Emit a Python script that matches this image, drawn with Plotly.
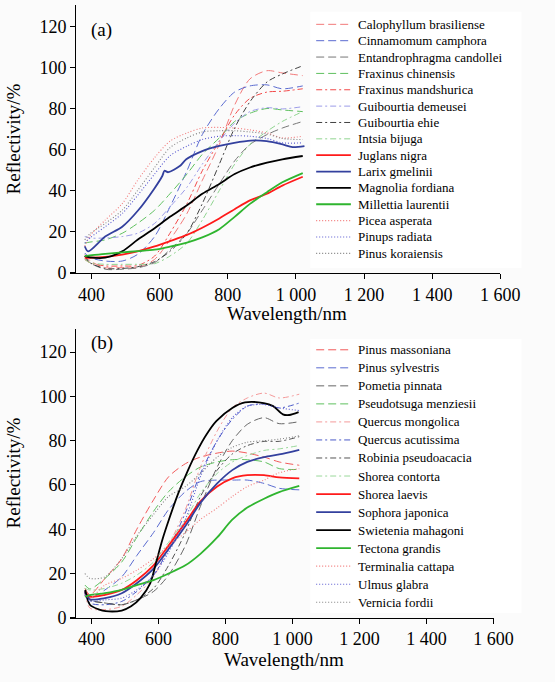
import plotly.graph_objects as go

# ---------------- data ----------------
WL = [380, 395, 440, 490, 535, 585, 630, 680, 725, 775, 820, 865, 915, 960, 1020]

# panel (a)
calophyllum_brasiliense = [9, 6, 2.6, 2.6, 2.6, 6.6, 16.1, 28.9, 45, 62.5, 81.7, 94.4, 98.4, 97.3, 96]
cinnamomum_camphora = [9.7, 7.5, 5.8, 5.8, 9, 17.7, 32.1, 49.7, 67.3, 80, 88, 91, 91.5, 89.6, 91]
entandrophragma_candollei = [8.2, 5, 1.8, 1.8, 2.5, 5, 11.3, 19.3, 30.5, 43.3, 54.5, 62.5, 67.3, 70.5, 73.7]
fraxinus_chinensis = [14.5, 15, 16.1, 19.3, 24.1, 30.5, 38.5, 48.1, 57.7, 65.7, 73.7, 77.7, 80, 79.3, 78.5]
fraxinus_mandshurica = [6.6, 5, 3.4, 3.4, 3.6, 8.2, 19.3, 33.7, 49.7, 64.1, 76.9, 84.9, 88, 88.4, 89.6]
guibourtia_demeusei = [17.7, 17, 17, 17.7, 19.3, 24.1, 32.1, 41.7, 52.9, 64.1, 72.9, 78.5, 80.4, 79.8, 80.9]
guibourtia_ehie = [8.2, 5, 2.2, 2.2, 3, 5.5, 10.5, 19.3, 33.7, 52.9, 70.5, 83.3, 92.9, 96.8, 100.8]
intsia_bijuga = [6.6, 5, 4.2, 4.2, 4.2, 4.5, 8.2, 14.5, 25.7, 40.1, 52.9, 62.5, 68.9, 73.7, 78.5]
juglans_nigra = [7.4, 7.4, 7.8, 8.9, 10.5, 12.9, 15.5, 18.5, 22, 26.5, 31, 35.3, 38.5, 42.5, 46.8]
larix_wl = [380, 390, 440, 490, 537, 584, 608, 614, 625, 659, 678, 725, 772, 819, 867, 914, 961, 990, 1025]
larix_gmelinii = [13, 10.5, 17.7, 22.5, 30.5, 41, 47.3, 49.7, 49, 52, 55.3, 59.3, 61.7, 63.3, 64.4, 64.1, 62.5, 61.2, 61.7]
magnolia_fordiana = [8.2, 7.6, 7.4, 10.5, 16.1, 21.7, 27.3, 32.9, 38.5, 43.3, 48.1, 51.3, 53.7, 55.3, 56.9]
millettia_laurentii = [8.2, 8.5, 9.3, 10, 10.6, 11.3, 12.8, 14.8, 17.3, 21.3, 27.3, 33.6, 39.3, 44.1, 48.6]
picea_asperata = [13, 18, 25.7, 33.7, 45, 56.1, 64.1, 68.1, 70.5, 70.8, 70.5, 69.6, 68.1, 65.7, 66.5]
pinups_radiata = [14.5, 17, 22.5, 28.9, 37.7, 48.1, 57, 61.7, 64.9, 66.5, 66.8, 66.5, 65.4, 63.3, 63.3]
pinus_koraiensis = [16.1, 19, 24.1, 30.5, 40.1, 51.3, 60.9, 65.7, 68.6, 69.2, 69.2, 68.6, 67.6, 65.4, 64.9]

# panel (b)
pinus_massoniana = [13.3, 10.4, 17.8, 26.7, 40, 53.3, 63.7, 69.6, 72.6, 74.4, 75.3, 74.4, 72.6, 70.4, 68.9]
pinus_sylvestris = [11.9, 8.9, 12.6, 18.5, 28.1, 38.5, 48.9, 57, 61.5, 62.2, 62.2, 62.2, 60.7, 58.5, 57.8]
pometia_pinnata = [10.4, 8, 6.7, 5.9, 8.1, 11.9, 19.3, 32.6, 50.4, 68.1, 80, 87.4, 90.4, 87.7, 88.6]
pseudotsuga_menziesii = [14.8, 13, 17.8, 25.2, 36.3, 48.1, 57, 63.7, 68.1, 70.4, 71.4, 71.4, 70.4, 67.4, 67]
quercus_mongolica = [11.9, 4.4, 3.7, 5.2, 10.4, 18.5, 32.6, 48.9, 68.1, 84.4, 94.8, 99.3, 101.5, 99.3, 101]
quercus_acutissima = [11.1, 6.7, 5.9, 7.4, 11.9, 19.3, 31.1, 47.4, 65.2, 80, 89.6, 95.6, 96.6, 94.8, 97]
robinia_pseudoacacia = [11.1, 8, 6.7, 5.9, 8.1, 13.3, 23.7, 38.5, 54.8, 66.7, 74, 77.8, 79.7, 79.7, 81.8]
shorea_contorta = [13.3, 12.5, 13.3, 15.6, 19.3, 25.2, 34.1, 44.4, 56.3, 65.2, 70.4, 73.3, 75.6, 76.3, 77.8]
shorea_laevis = [11.9, 9.6, 10.4, 12.6, 17, 23.7, 32.6, 43, 52.6, 59.3, 63, 64.4, 64.4, 63.4, 63]
sophora_japonica = [11.9, 8.4, 8.9, 11.1, 15.6, 22.2, 31.1, 41.5, 51.9, 60.7, 66.7, 70.4, 72.6, 73.8, 75.9]
swietenia_wl = [381, 395, 423, 442, 490, 518, 546, 575, 593, 612, 631, 659, 688, 716, 744, 773, 820, 858, 914, 942, 971, 990, 1018]
swietenia_mahagoni = [12.6, 5.9, 3.7, 3, 3.3, 5.2, 8.9, 15.6, 25.2, 35.6, 44.4, 56.3, 66.7, 75.6, 83, 88.9, 94.8, 97.3, 97, 95.6, 91.9, 91.6, 92.9]
tectona_grandis = [9.6, 10.2, 11.1, 12.6, 14.8, 17, 20, 23.7, 28.9, 36.3, 44.3, 49.8, 53.8, 56.8, 59.6]
terminalia_cattapa = [10.4, 8.9, 14.8, 17.8, 21.5, 26.7, 32.6, 38.5, 44.4, 49.6, 54.8, 59.3, 62.2, 65.5, 67.4]
ulmus_glabra = [10.4, 7.5, 8.1, 8.9, 12.6, 19.3, 29.6, 44.4, 63.7, 80, 90.4, 95.6, 96.3, 94.8, 93.6]
vernicia_fordii = [20, 17.8, 18.5, 26.7, 37, 46.7, 54.8, 59.3, 65.2, 72.6, 77, 79.3, 80, 80.7, 82.2]

X_TICKS = [400, 600, 800, 1000, 1200, 1400, 1600]
X_TICKTEXT = ["400", "600", "800", "1 000", "1 200", "1 400", "1 600"]
Y_TICKS = [0, 20, 40, 60, 80, 100, 120]

series_a = [
    ("Calophyllum brasiliense", WL, calophyllum_brasiliense),
    ("Cinnamomum camphora", WL, cinnamomum_camphora),
    ("Entandrophragma candollei", WL, entandrophragma_candollei),
    ("Fraxinus chinensis", WL, fraxinus_chinensis),
    ("Fraxinus mandshurica", WL, fraxinus_mandshurica),
    ("Guibourtia demeusei", WL, guibourtia_demeusei),
    ("Guibourtia ehie", WL, guibourtia_ehie),
    ("Intsia bijuga", WL, intsia_bijuga),
    ("Juglans nigra", WL, juglans_nigra),
    ("Larix gmelinii", larix_wl, larix_gmelinii),
    ("Magnolia fordiana", WL, magnolia_fordiana),
    ("Millettia laurentii", WL, millettia_laurentii),
    ("Picea asperata", WL, picea_asperata),
    ("Pinups radiata", WL, pinups_radiata),
    ("Pinus koraiensis", WL, pinus_koraiensis),
]
series_b = [
    ("Pinus massoniana", WL, pinus_massoniana),
    ("Pinus sylvestris", WL, pinus_sylvestris),
    ("Pometia pinnata", WL, pometia_pinnata),
    ("Pseudotsuga menziesii", WL, pseudotsuga_menziesii),
    ("Quercus mongolica", WL, quercus_mongolica),
    ("Quercus acutissima", WL, quercus_acutissima),
    ("Robinia pseudoacacia", WL, robinia_pseudoacacia),
    ("Shorea contorta", WL, shorea_contorta),
    ("Shorea laevis", WL, shorea_laevis),
    ("Sophora japonica", WL, sophora_japonica),
    ("Swietenia mahagoni", swietenia_wl, swietenia_mahagoni),
    ("Tectona grandis", WL, tectona_grandis),
    ("Terminalia cattapa", WL, terminalia_cattapa),
    ("Ulmus glabra", WL, ulmus_glabra),
    ("Vernicia fordii", WL, vernicia_fordii),
]

# ---------------- styles ----------------
DASH = "8px,4px"
DASHDOT = "6px,3px,2px,3px"
DOT = "1px,2px"
styles_a = [
    ("#f27a7a", DASH, 1.0), ("#5a6bd0", DASH, 1.0), ("#777777", DASH, 1.0), ("#5fc05f", DASH, 1.0),
    ("#f24a4a", DASHDOT, 1.0), ("#9c9ce8", DASHDOT, 1.0), ("#404040", DASHDOT, 1.0), ("#8fd48f", DASHDOT, 1.0),
    ("#ff1a1a", "solid", 1.8), ("#33409e", "solid", 1.8), ("#000000", "solid", 1.8), ("#2fb52f", "solid", 1.8),
    ("#f27a7a", DOT, 1.1), ("#5a5ad0", DOT, 1.1), ("#808080", DOT, 1.1),
]
styles_b = [
    ("#f25a5a", DASH, 1.0), ("#5a6bd0", DASH, 1.0), ("#666666", DASH, 1.0), ("#5fc05f", DASH, 1.0),
    ("#f49a9a", DASHDOT, 1.0), ("#4a5ac8", DASHDOT, 1.0), ("#555555", DASHDOT, 1.0), ("#9ad89a", DASHDOT, 1.0),
    ("#ff1a1a", "solid", 1.8), ("#33409e", "solid", 1.8), ("#000000", "solid", 1.8), ("#2fb52f", "solid", 1.8),
    ("#f27a7a", DOT, 1.1), ("#5a5ad0", DOT, 1.1), ("#808080", DOT, 1.1),
]

W, H = 555, 682
FONT = "Liberation Serif"

def px(x):
    return x / W

def py(y):
    return 1 - y / H

fig = go.Figure()

for (name, wl, vals), (col, dash, lw) in zip(series_a, styles_a):
    fig.add_trace(go.Scatter(x=wl, y=vals, mode="lines", name=name, showlegend=False,
                             line=dict(color=col, dash=dash, width=lw, shape="spline", smoothing=0.8),
                             xaxis="x", yaxis="y"))
for (name, wl, vals), (col, dash, lw) in zip(series_b, styles_b):
    fig.add_trace(go.Scatter(x=wl, y=vals, mode="lines", name=name, showlegend=False,
                             line=dict(color=col, dash=dash, width=lw, shape="spline", smoothing=0.8),
                             xaxis="x2", yaxis="y2"))

# geometry (pixels)
XL = 73
XR_A, XR_B = 519, 512
X400 = 95
YAX = 78
A_TOP, A_BOT = 5, 277
B_TOP, B_BOT = 334, 627

def x_start(xr):
    return 400 - (X400 - XL) / ((xr - X400) / 1200.0)

ax_common = dict(showline=True, linecolor="black", linewidth=1, ticks="outside", ticklen=5,
                 tickcolor="black", showgrid=False, zeroline=False,
                 tickfont=dict(family=FONT, size=18, color="black"))

fig.update_layout(
    width=W, height=H, margin=dict(l=0, r=0, t=0, b=0),
    paper_bgcolor="#fbfbfb", plot_bgcolor="rgba(0,0,0,0)", showlegend=False,
    font=dict(family=FONT, color="black"),
    xaxis=dict(domain=[px(XL), px(XR_A)], range=[x_start(XR_A), 1600], tickvals=X_TICKS, ticktext=X_TICKTEXT,
               anchor="y", **ax_common),
    yaxis=dict(domain=[py(A_BOT), py(A_TOP)], range=[0, 130.4], tickvals=Y_TICKS,
               anchor="free", position=px(YAX), **ax_common),
    xaxis2=dict(domain=[px(XL), px(XR_B)], range=[x_start(XR_B), 1600], tickvals=X_TICKS, ticktext=X_TICKTEXT,
                anchor="y2", **ax_common),
    yaxis2=dict(domain=[py(B_BOT), py(B_TOP)], range=[0, 130.4], tickvals=Y_TICKS,
                anchor="free", position=px(YAX), **ax_common),
)

shapes = []
annotations = []

# legend boxes
shapes.append(dict(type="rect", xref="paper", yref="paper", x0=px(322), x1=px(541), y0=py(272), y1=py(12),
                   fillcolor="white", line=dict(width=0), layer="below"))
shapes.append(dict(type="rect", xref="paper", yref="paper", x0=px(322), x1=px(541), y0=py(622), y1=py(344),
                   fillcolor="white", line=dict(width=0), layer="below"))

def legend(series, styles, y_first, step):
    for i, ((name, _, _), (col, dash, lw)) in enumerate(zip(series, styles)):
        yy = y_first + i * step
        shapes.append(dict(type="line", xref="paper", yref="paper", x0=px(328), x1=px(364),
                           y0=py(yy), y1=py(yy), line=dict(color=col, dash=dash, width=lw)))
        annotations.append(dict(xref="paper", yref="paper", x=px(369), y=py(yy), text=name,
                                showarrow=False, xanchor="left", yanchor="middle",
                                font=dict(family=FONT, size=13, color="black")))

legend(series_a, styles_a, 24.7, 16.6)
legend(series_b, styles_b, 355, 18.3)

for lab, yy in (("(a)", 30), ("(b)", 348)):
    annotations.append(dict(xref="paper", yref="paper", x=px(92), y=py(yy), text=lab, showarrow=False,
                            xanchor="left", yanchor="middle", font=dict(family=FONT, size=19, color="black")))

for yy, xr in ((318, XR_A), (669, XR_B)):
    annotations.append(dict(xref="paper", yref="paper", x=px((XL + xr) / 2 + 2), y=py(yy), text="Wavelength/nm",
                            showarrow=False, xanchor="center", yanchor="middle",
                            font=dict(family=FONT, size=19, color="black")))
for yy in (141, 480):
    annotations.append(dict(xref="paper", yref="paper", x=px(14), y=py(yy), text="Reflectivity/%",
                            showarrow=False, textangle=-90, xanchor="center", yanchor="middle",
                            font=dict(family=FONT, size=19, color="black")))

fig.update_layout(shapes=shapes, annotations=annotations)
fig.write_html("out.html")
